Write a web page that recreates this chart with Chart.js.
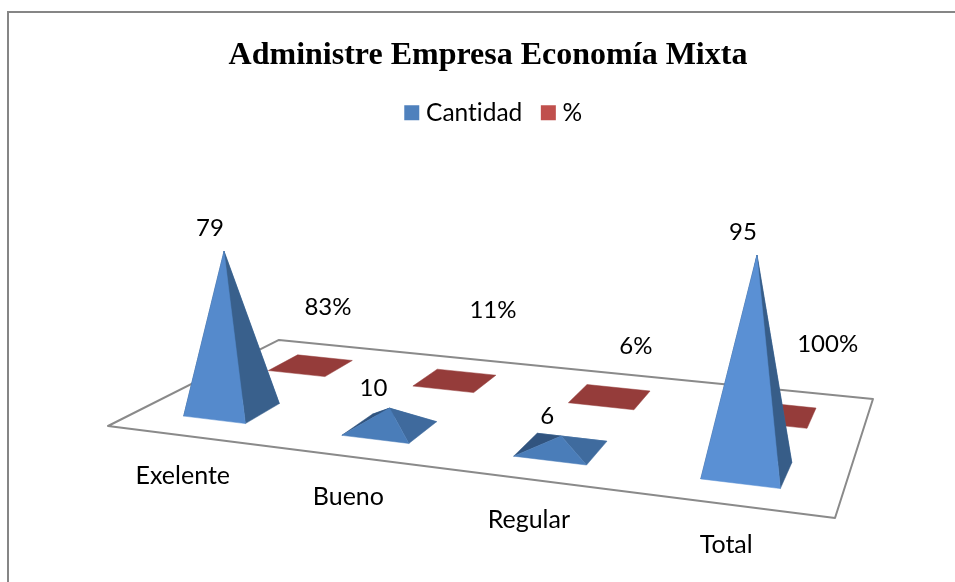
<!DOCTYPE html>
<html><head><meta charset="utf-8">
<style>html,body{margin:0;padding:0;background:#fff;overflow:hidden}#w{position:absolute;left:0;top:0;width:955px;height:582px}</style>
<script src="https://cdn.jsdelivr.net/npm/chart.js@4"></script>
</head><body><div id="w"><canvas id="c" width="955" height="582"></canvas></div>
<script>
const titleText = 'Administre Empresa Economía Mixta';
const categories = ['Exelente', 'Bueno', 'Regular', 'Total'];
const seriesNames = ['Cantidad', '%'];
const cantidad = [79, 10, 6, 95];
const porcentaje = [0.83, 0.11, 0.06, 1];
const seriesColors = ['#4F81BD', '#C0504D'];

// Camera: maps floor (u,v) and height (axis value z) to the screen.
const cam = {a:592.4,b:236.3,c:108,d:8.5,e:-6.4,f:426,g:-0.1612,h:0.2342,p:-0.1931,q:-2.18,r:-0.000382};
function project(u, v, z) {
  const w = 1 + cam.g*u + cam.h*v + cam.r*z;
  return [(cam.a*u + cam.b*v + cam.c + cam.p*z)/w, (cam.d*u + cam.e*v + cam.f + cam.q*z)/w];
}
function face(ctx, pts, color) {
  ctx.beginPath();
  pts.forEach((p, i) => i ? ctx.lineTo(p[0], p[1]) : ctx.moveTo(p[0], p[1]));
  ctx.closePath();
  ctx.fillStyle = color; ctx.fill();
  ctx.strokeStyle = color; ctx.lineWidth = 0.5; ctx.stroke();
}
function mix(c1, c2, t) {
  const n = s => [1,3,5].map(i => parseInt(s.substr(i,2),16));
  const A = n(c1), B = n(c2);
  return 'rgb(' + A.map((x,i) => Math.round(x+(B[i]-x)*t)).join(',') + ')';
}
// Nudges of the value labels from their anchor, and of category labels from the front edge.
const labelNudge = [
  [[-14,-23],[-16,-20],[-14,-20],[-14,-23]],
  [[17,-58],[38,-70],[26,-51],[51,-70]]
];
const catNudge = [-3, 40];
const legendShift = 8;

const pyramid3d = {
  id: 'pyramid3d',
  beforeUpdate(chart) { chart.ctx.textRendering = 'optimizeSpeed'; },
  afterLayout(chart) { chart.legend.left += legendShift; chart.legend.right += legendShift; },
  beforeDraw(chart) {
    const ctx = chart.ctx;
    ctx.textRendering = 'optimizeSpeed';
    ctx.save();
    ctx.strokeStyle = '#868686'; ctx.lineWidth = 2;
    ctx.beginPath(); ctx.moveTo(8, 582); ctx.lineTo(8, 12); ctx.lineTo(955, 12); ctx.stroke();
    ctx.restore();
  },
  beforeDatasetsDraw(chart) {
    const ctx = chart.ctx, area = chart.chartArea, ys = chart.scales.y, xs = chart.scales.x;
    const toU = px => (px - area.left) / area.width;
    ctx.save();
    // floor
    ctx.strokeStyle = '#8a8a8a'; ctx.lineWidth = 2; ctx.lineJoin = 'round';
    ctx.beginPath();
    [[0,0],[1,0],[1,1],[0,1]].forEach((c,i) => { const p = project(c[0],c[1],0); i ? ctx.lineTo(p[0],p[1]) : ctx.moveTo(p[0],p[1]); });
    ctx.closePath(); ctx.stroke();
    // back series first
    const n = chart.data.datasets.length;
    const texts = [];
    for (let ds = n-1; ds >= 0; ds--) {
      const meta = chart.getDatasetMeta(ds), base = chart.data.datasets[ds].backgroundColor;
      meta.data.forEach((el, i) => {
        const val = ys.getValueForPixel(el.y);
        const t = Math.min(1, val/95);
        const u0 = toU(el.x - el.width/2), u1 = toU(el.x + el.width/2), uc = toU(el.x);
        const vc = (ds + 0.5)/n, v0 = vc - 0.1, v1 = vc + 0.1;
        const FL = project(u0,v0,0), FR = project(u1,v0,0), BR = project(u1,v1,0), BL = project(u0,v1,0);
        const A = project(uc,vc,val);
        if (ds === 0) {
          face(ctx,[BL,BR,A], '#3f6c9f');
          face(ctx,[FL,BL,A], '#31547f');
          face(ctx,[FR,BR,A], mix('#406c9f','#375d88',t));
          face(ctx,[FL,FR,A], mix('#4a7db9','#5a90d4',t*t));
        } else {
          face(ctx,[FL,FR,BR,BL], mix(base,'#7a2f2e',0.62));
        }
        const raw = chart.data.datasets[ds].data[i];
        const lab = ds === 0 ? String(raw) : Math.round(raw*100) + '%';
        const anchor = ds === 0 ? A : project(uc,vc,0);
        texts.push([lab, anchor[0]+labelNudge[ds][i][0], anchor[1]+labelNudge[ds][i][1]]);
      });
    }
    ctx.fillStyle = '#000'; ctx.textAlign = 'center'; ctx.textBaseline = 'middle';
    ctx.font = '24px Lato, Carlito, sans-serif';
    texts.forEach(t => ctx.fillText(t[0], t[1], t[2]));
    ctx.font = '25px Lato, Carlito, sans-serif';
    chart.data.labels.forEach((lab, i) => {
      const p = project(toU(xs.getPixelForValue(i)), 0, 0);
      ctx.fillText(lab, p[0]+catNudge[0], p[1]+catNudge[1]);
    });
    ctx.restore();
    return false;
  }
};

new Chart(document.getElementById('c'), {
  type: 'bar',
  data: {
    labels: categories,
    datasets: [
      {label: seriesNames[0], data: cantidad, backgroundColor: seriesColors[0]},
      {label: seriesNames[1], data: porcentaje, backgroundColor: seriesColors[1]}
    ]
  },
  plugins: [pyramid3d],
  options: {
    responsive: false, animation: false,
    layout: {padding: {left: 21, right: 0, top: 37, bottom: 10}},
    categoryPercentage: 1, barPercentage: 0.4,
    scales: {
      x: {stacked: true, display: false},
      y: {stacked: false, display: false, min: 0, max: 100}
    },
    plugins: {
      tooltip: {enabled: false},
      title: {display: true, text: titleText, color: '#000', padding: {top: 0, bottom: 1},
        font: {family: '"Liberation Serif", serif', size: 32, weight: 'bold'}},
      legend: {display: true, position: 'top', labels: {color: '#000', boxWidth: 4, boxHeight: 15,
        usePointStyle: true, pointStyle: 'rect',
        font: {family: 'Lato, Carlito, sans-serif', size: 24.5}, padding: 24}}
    }
  }
});
</script></body></html>
